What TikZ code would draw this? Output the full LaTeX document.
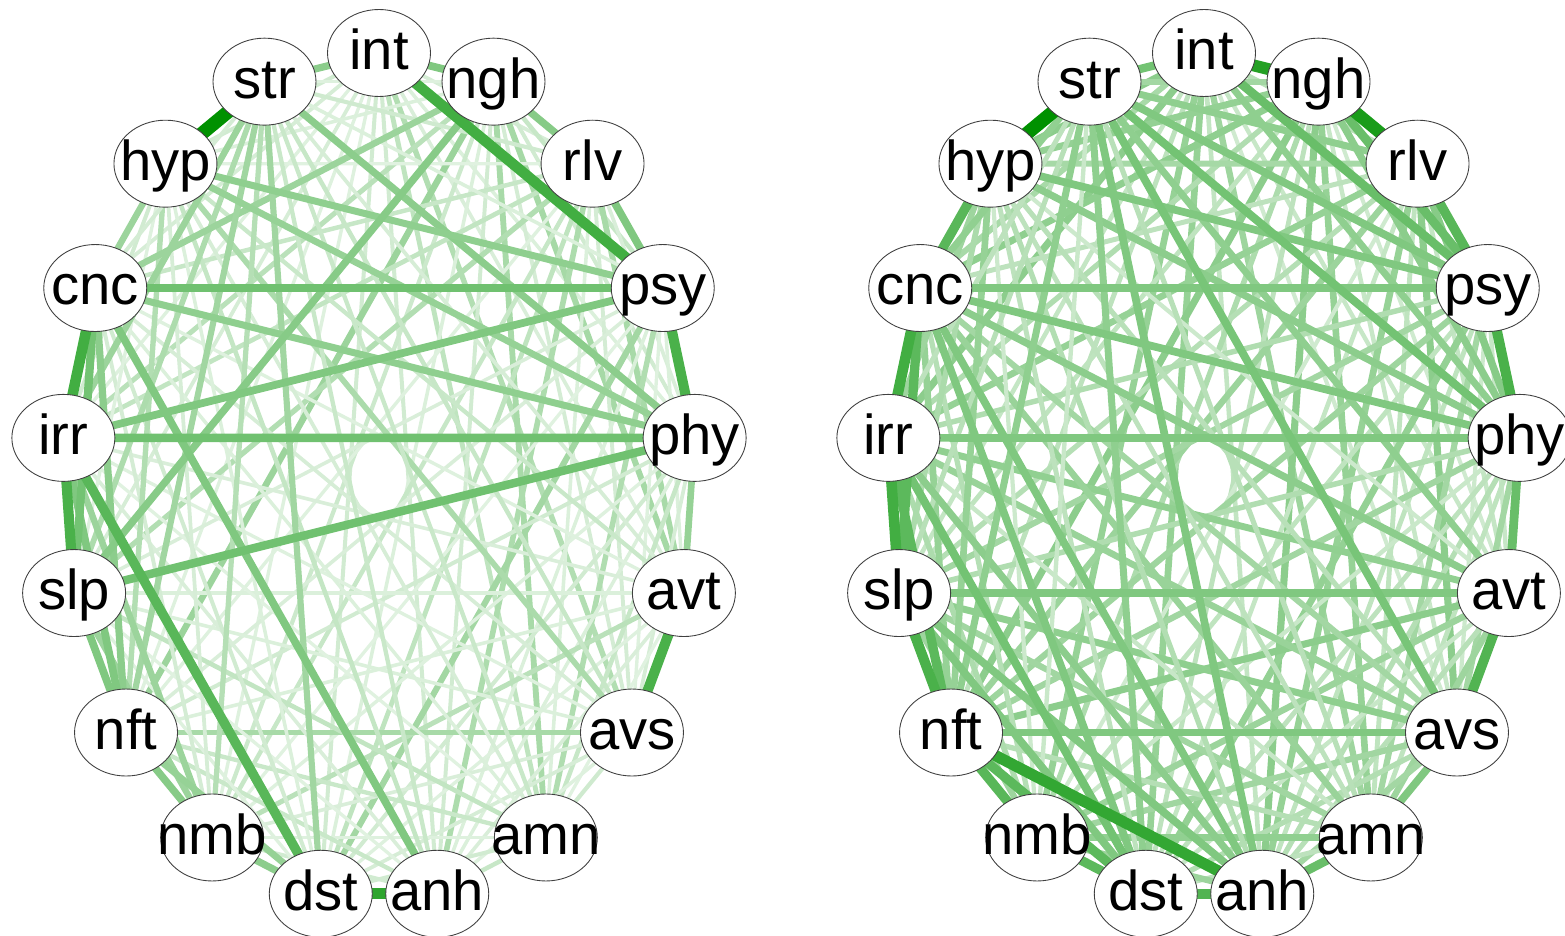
\documentclass[tikz,border=0pt]{standalone}
\usepackage{fontspec}
\setmainfont{Liberation Sans}
\usetikzlibrary{shapes.geometric}
\pgfdeclarelayer{edges}
\pgfsetlayers{edges,main}
\definecolor{eg}{RGB}{0,145,0}
\tikzset{
  nd/.style={ellipse, draw=black!75, line width=0.5pt, fill=white,
    minimum width=2.06cm, minimum height=1.74cm, inner sep=0pt,
    font=\fontsize{32}{36}\selectfont, text height=0.67cm, text depth=0pt}
}
\newcommand\myedge[3]{%
  \pgfmathsetmacro\ew{(3+10.5*#3)*0.569}%
  \pgfmathtruncatemacro\ec{10+90*#3}%
  \draw[line width=\ew pt, draw=eg!\ec!white] (#1.center) -- (#2.center);}
\def\nlist{int/0,ngh/1,rlv/2,psy/3,phy/4,avt/5,avs/6,amn/7,anh/8,dst/9,nmb/10,nft/11,slp/12,irr/13,cnc/14,hyp/15,str/16}
\def\keyL{cnc/ngh/0.33,str/nft/0.3,str/dst/0.3,hyp/cnc/0.33,str/irr/0.33,slp/nmb/0.33,irr/nmb/0.33,phy/avt/0.35,hyp/phy/0.35,dst/nft/0.35,
str/phy/0.4,hyp/psy/0.38,cnc/phy/0.38,int/str/0.4,nmb/dst/0.4,cnc/nft/0.4,
ngh/rlv/0.42,ngh/slp/0.42,nft/nmb/0.42,int/ngh/0.45,rlv/psy/0.45,irr/psy/0.45,cnc/anh/0.45,slp/nft/0.45,irr/nft/0.45,
cnc/slp/0.5,cnc/psy/0.52,irr/phy/0.52,slp/phy/0.52,
irr/dst/0.62,psy/phy/0.68,avt/avs/0.68,irr/slp/0.68,cnc/irr/0.72,int/psy/0.72,dst/anh/0.8,hyp/str/1}
\def\keyR{str/avt/0.38,hyp/phy/0.4,cnc/avt/0.4,irr/anh/0.4,int/phy/0.38,ngh/phy/0.4,rlv/phy/0.42,str/nft/0.38,str/dst/0.38,
str/anh/0.45,cnc/psy/0.45,irr/phy/0.45,slp/avt/0.45,nft/avs/0.45,cnc/phy/0.45,hyp/psy/0.45,slp/dst/0.45,slp/anh/0.45,cnc/anh/0.45,cnc/dst/0.45,avs/amn/0.45,str/psy/0.45,
int/str/0.5,str/phy/0.5,str/avs/0.48,irr/dst/0.5,
phy/avt/0.55,amn/anh/0.55,int/psy/0.55,ngh/psy/0.55,
nmb/dst/0.6,cnc/slp/0.6,irr/nft/0.6,nft/dst/0.6,nft/nmb/0.62,hyp/cnc/0.62,rlv/psy/0.62,avt/avs/0.65,dst/anh/0.65,psy/phy/0.68,slp/nft/0.68,
cnc/irr/0.72,irr/slp/0.72,nft/anh/0.78,int/ngh/0.85,ngh/rlv/0.9,hyp/str/1}
\begin{document}
\begin{tikzpicture}[x=0.02cm,y=-0.02cm]
\useasboundingbox (0,0) rectangle (1565,936);
% nodes
\foreach \n/\k in \nlist {
  \node[nd] (L\n) at ({379+317*cos(90-\k*360/17)},{477-424*sin(90-\k*360/17)}) {\makebox[0pt]{\n}};
  \node[nd] (R\n) at ({1204+317*cos(90-\k*360/17)},{477-424*sin(90-\k*360/17)}) {\makebox[0pt]{\n}};
}
% register key edges
\foreach \a/\b/\w in \keyL {\expandafter\gdef\csname kL\a\b\endcsname{}}
\foreach \a/\b/\w in \keyR {\expandafter\gdef\csname kR\a\b\endcsname{}}
\begin{pgfonlayer}{edges}
\pgfmathsetseed{7}
% faint edges, left network
\foreach \a/\i in \nlist {\foreach \b/\j in \nlist {
  \ifnum\i<\j\relax
    \ifcsname kL\a\b\endcsname\else\ifcsname kL\b\a\endcsname\else
      \pgfmathsetmacro\wr{0.03+0.33*rnd*rnd}
      \myedge{L\a}{L\b}{\wr}
    \fi\fi
  \fi}}
% faint edges, right network
\foreach \a/\i in \nlist {\foreach \b/\j in \nlist {
  \ifnum\i<\j\relax
    \ifcsname kR\a\b\endcsname\else\ifcsname kR\b\a\endcsname\else
      \pgfmathsetmacro\wr{0.1+0.3*rnd}
      \myedge{R\a}{R\b}{\wr}
    \fi\fi
  \fi}}
% stronger edges
\foreach \a/\b/\w in \keyL {\myedge{L\a}{L\b}{\w}}
\foreach \a/\b/\w in \keyR {\myedge{R\a}{R\b}{\w}}
\end{pgfonlayer}
\end{tikzpicture}
\end{document}
